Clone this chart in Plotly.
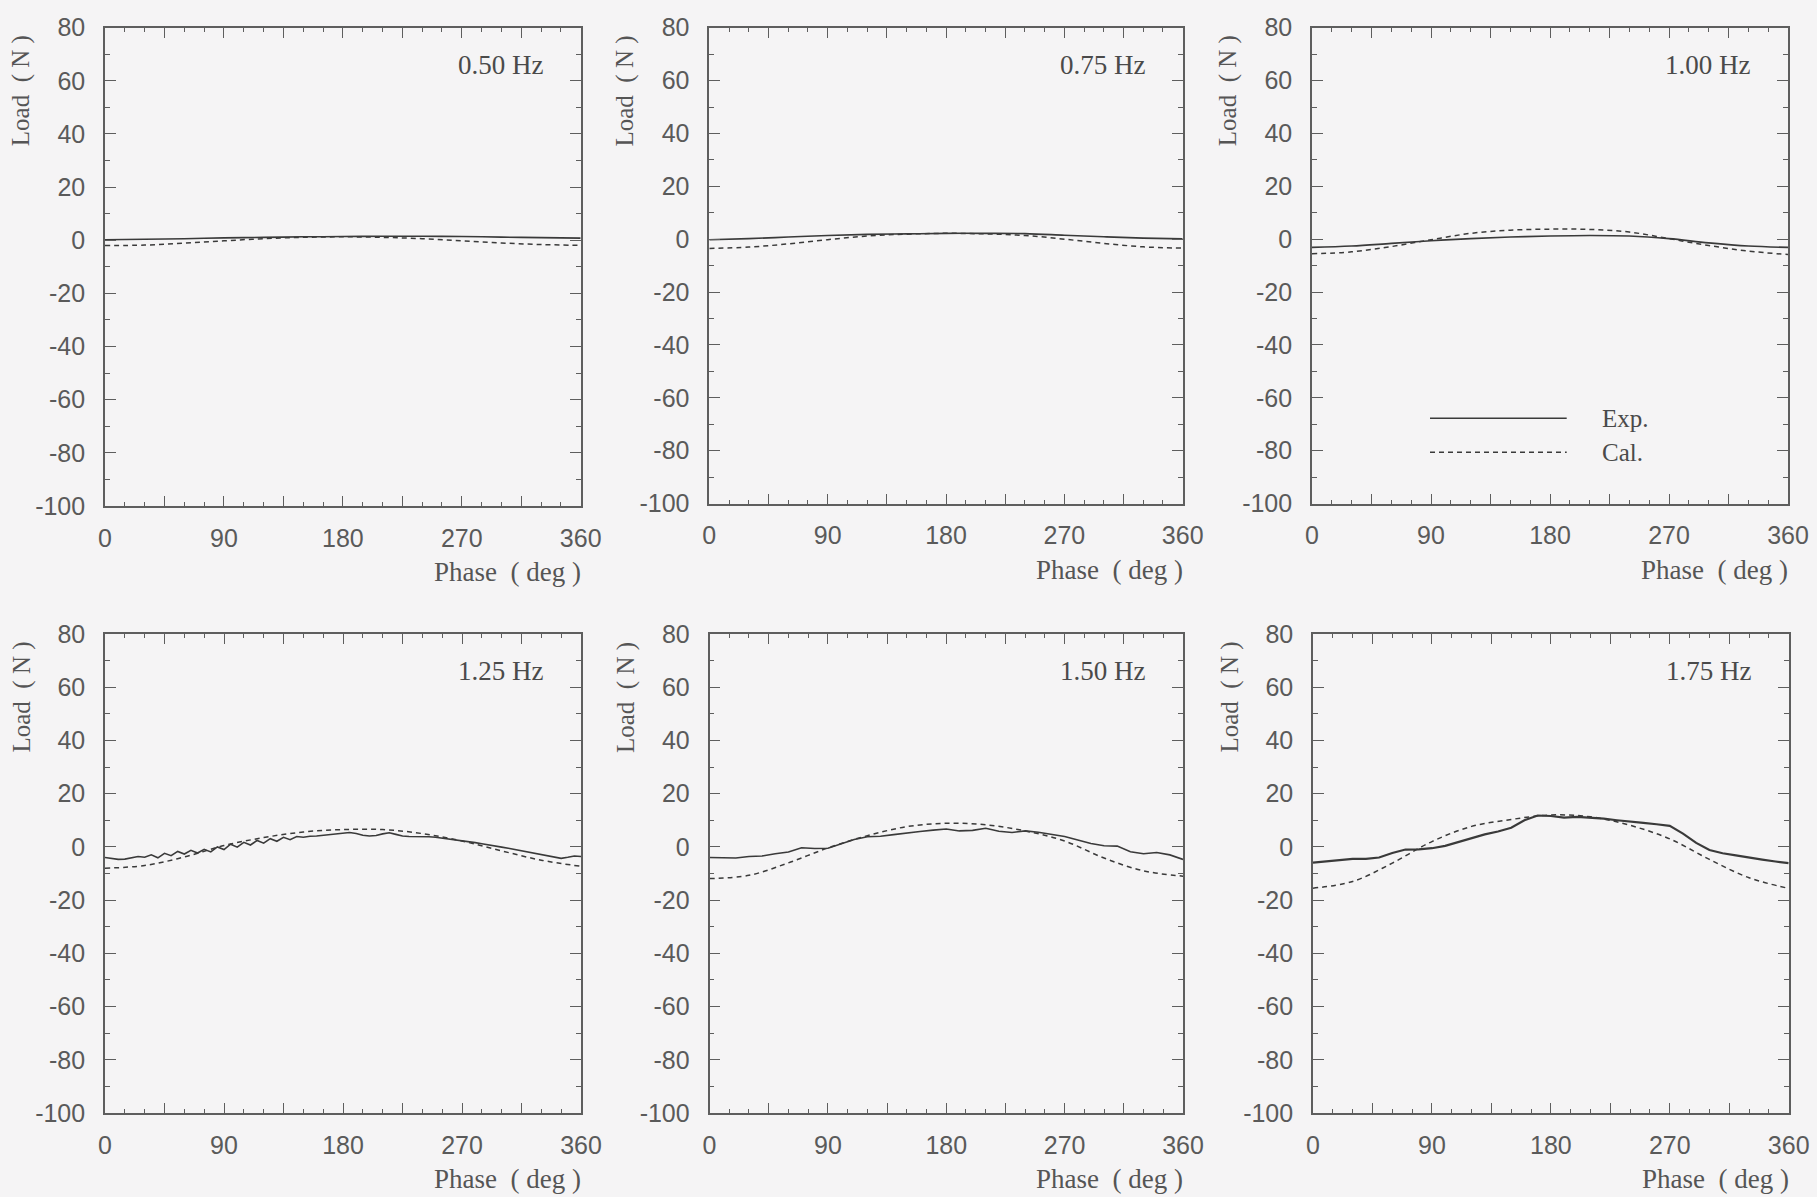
import plotly.graph_objects as go

# ---------------- data ----------------
FREQ_LABELS = ["0.50 Hz", "0.75 Hz", "1.00 Hz", "1.25 Hz", "1.50 Hz", "1.75 Hz"]

PHASE_30 = [0, 30, 60, 90, 120, 150, 180, 210, 240, 270, 300, 330, 360]
PHASE_10 = [0, 10, 20, 30, 40, 50, 60, 70, 80, 90, 100, 110, 120, 130, 140, 150,
            160, 170, 180, 190, 200, 210, 220, 230, 240, 250, 260, 270, 280, 290,
            300, 310, 320, 330, 340, 350, 360]
PHASE_5 = [0, 5, 10, 15, 20, 25, 30, 35, 40, 45, 50, 55, 60, 65, 70, 75, 80, 85,
           90, 95, 100, 105, 110, 115, 120, 125, 130, 135, 140, 145, 150, 155,
           160, 165, 170, 175, 180, 185, 190, 195, 200, 205, 210, 215, 220, 225,
           230, 235, 240, 245, 250, 255, 260, 265, 270, 275, 280, 285, 290, 295,
           300, 305, 310, 315, 320, 325, 330, 335, 340, 345, 350, 355, 360]

# Exp. (measured) load, N
EXP_050 = [0.2, 0.4, 0.6, 0.9, 1.1, 1.3, 1.4, 1.5, 1.5, 1.4, 1.2, 1.0, 0.8]
EXP_075 = [-0.2, 0.2, 0.8, 1.4, 1.8, 2.0, 2.2, 2.2, 2.1, 1.5, 0.9, 0.4, 0.1]
EXP_100 = [-3.1, -2.6, -1.6, -0.6, 0.2, 0.8, 1.2, 1.4, 1.2, 0.2, -1.4, -2.6, -3.1]
EXP_125 = [-4.0, -4.4, -4.7, -4.6, -4.1, -3.6, -3.9, -3.0, -4.1, -2.4, -3.3, -1.7,
           -2.7, -1.3, -2.3, -0.9, -1.9, 0.0, -1.0, 1.0, -0.1, 1.7, 0.7, 2.4,
           1.4, 3.1, 2.1, 3.6, 2.7, 3.9, 3.6, 4.0, 4.1, 4.4, 4.7, 5.0,
           5.3, 5.4, 5.0, 4.4, 4.1, 4.3, 4.9, 5.3, 4.7, 4.1, 3.9, 3.9,
           3.9, 3.8, 3.6, 3.3, 3.0, 2.7, 2.4, 2.0, 1.6, 1.2, 0.7, 0.3,
           -0.1, -0.5, -1.0, -1.4, -1.9, -2.4, -3.0, -3.4, -3.9, -4.3, -3.9, -3.4,
           -3.6]
EXP_150 = [-4.0, -4.1, -4.2, -3.6, -3.4, -2.6, -1.9, -0.3, -0.6, -0.5, 1.2, 2.8,
           3.8, 4.0, 4.6, 5.3, 5.8, 6.3, 6.7, 6.0, 6.2, 7.0, 5.9, 5.4, 6.0, 5.5,
           4.8, 3.9, 2.6, 1.3, 0.4, 0.3, -1.8, -2.6, -2.1, -3.0, -4.7]
EXP_175 = [-5.9, -5.5, -5.0, -4.5, -4.5, -4.0, -2.3, -1.0, -0.9, -0.5, 0.4, 1.8,
           3.4, 4.7, 5.8, 7.2, 10.0, 11.8, 11.6, 11.0, 11.3, 11.0, 10.6, 10.0,
           9.6, 9.0, 8.5, 7.9, 5.0, 1.5, -1.2, -2.4, -3.2, -4.1, -4.8, -5.5, -6.1]

# Cal. (calculated) load, N
CAL_050 = [-2.0, -1.8, -1.1, -0.2, 0.6, 1.1, 1.3, 1.1, 0.6, -0.2, -1.0, -1.6, -1.9]
CAL_075 = [-3.5, -3.0, -1.8, -0.2, 1.2, 1.9, 2.2, 2.0, 1.4, 0.0, -1.6, -2.9, -3.4]
CAL_100 = [-5.5, -4.8, -2.8, -0.2, 2.2, 3.4, 3.8, 3.7, 2.7, 0.2, -2.4, -4.5, -5.8]
CAL_125 = [-8.0, -7.0, -3.8, 0.5, 3.5, 5.6, 6.5, 6.5, 5.0, 2.2, -1.5, -5.0, -7.3]
CAL_150 = [-11.9, -10.7, -6.0, -0.4, 4.2, 7.6, 8.9, 8.3, 6.0, 2.2, -4.2, -9.0, -11.0]
CAL_175 = [-15.5, -13.0, -6.1, 2.0, 7.7, 10.3, 12.0, 11.3, 8.1, 3.0, -4.7, -11.6, -15.6]

EXP_PHASES = [PHASE_30, PHASE_30, PHASE_30, PHASE_5, PHASE_10, PHASE_10]
EXP_LOADS = [EXP_050, EXP_075, EXP_100, EXP_125, EXP_150, EXP_175]
CAL_PHASES = [PHASE_30] * 6
CAL_LOADS = [CAL_050, CAL_075, CAL_100, CAL_125, CAL_150, CAL_175]

X_TICKS = [0, 45, 90, 135, 180, 225, 270, 315, 360]
X_TICKTEXT = ["0", "", "90", "", "180", "", "270", "", "360"]
Y_TICKS = [-100, -80, -60, -40, -20, 0, 20, 40, 60, 80]
Y_TICKTEXT = ["-100", "-80", "-60", "-40", "-20", "0", "20", "40", "60", "80"]

LEGEND_NAMES = ["Exp.", "Cal."]

# ---------------- styling / layout ----------------
W, H = 1817, 1197
BG = "#f5f4f5"
AXC = "#5e5e5e"
CURVE = "#3a3a3a"
TICKFONT = dict(family="Liberation Sans, Arial, sans-serif", size=25, color="#5a5a5a")
SERIF = "Liberation Serif, Times New Roman, serif"
NB = "\u00a0"

# panel boxes in page pixels (left, right, top, bottom)
BOXES = [
    (105, 580.7, 27.7, 506), (709.3, 1182.7, 27.7, 503.5), (1312, 1788, 27.7, 503.5),
    (105, 581, 634, 1113), (709.5, 1183, 634, 1113), (1313, 1788.7, 634, 1113),
]

fig = go.Figure()
annotations = []
shapes = []
layout_axes = {}

for i in range(6):
    s = "" if i == 0 else str(i + 1)
    xa, ya = "x" + s, "y" + s
    l, r, t, b = BOXES[i]
    pw, ph = r - l, b - t

    lw_exp = 2.2 if i == 5 else 1.6
    fig.add_trace(go.Scatter(
        x=EXP_PHASES[i], y=EXP_LOADS[i], mode="lines", xaxis=xa, yaxis=ya,
        name=LEGEND_NAMES[0], showlegend=False,
        line=dict(color=CURVE, width=lw_exp, shape="spline" if i < 3 else "linear"),
    ))
    fig.add_trace(go.Scatter(
        x=CAL_PHASES[i], y=CAL_LOADS[i], mode="lines", xaxis=xa, yaxis=ya,
        name=LEGEND_NAMES[1], showlegend=False,
        line=dict(color=CURVE, width=1.5, dash="5px,4px", shape="spline", smoothing=1.0),
    ))

    layout_axes["xaxis" + s] = dict(
        domain=[l / W, r / W], anchor=ya, range=[0, 360], automargin=False,
        tickmode="array", tickvals=X_TICKS, ticktext=X_TICKTEXT,
        ticks="inside", ticklen=10, tickwidth=1.3, tickcolor=AXC,
        showline=True, linecolor=AXC, linewidth=1.6, mirror="allticks",
        showgrid=False, zeroline=False, tickfont=TICKFONT, ticklabelstandoff=9,
        minor=dict(tickmode="linear", tick0=0, dtick=15, ticks="inside", ticklen=4,
                   tickwidth=1.1, tickcolor=AXC, showgrid=False),
        fixedrange=True,
    )
    layout_axes["yaxis" + s] = dict(
        domain=[1 - b / H, 1 - t / H], anchor=xa, range=[-100, 80], automargin=False,
        tickmode="array", tickvals=Y_TICKS, ticktext=Y_TICKTEXT,
        ticks="inside", ticklen=11, tickwidth=1.3, tickcolor=AXC,
        showline=True, linecolor=AXC, linewidth=1.6, mirror="allticks",
        showgrid=False, zeroline=False, tickfont=TICKFONT, ticklabelstandoff=13,
        minor=dict(tickmode="linear", tick0=0, dtick=10, ticks="inside", ticklen=5,
                   tickwidth=1.1, tickcolor=AXC, showgrid=False),
        fixedrange=True,
    )

    xd, yd = xa + " domain", ya + " domain"
    annotations.append(dict(
        text=FREQ_LABELS[i], xref=xd, yref=yd, x=1 - 36 / pw, y=1 - 37 / ph,
        xanchor="right", yanchor="middle", showarrow=False,
        font=dict(family=SERIF, size=27, color="#4a4a4a"),
    ))
    annotations.append(dict(
        text="Load" + NB + NB + "(" + NB + "N" + NB + ")", xref=xd, yref=yd,
        x=-84 / pw, y=1 - 6 / ph,
        xanchor="center", yanchor="top", textangle=-90, showarrow=False,
        font=dict(family=SERIF, size=25, color="#555555"),
    ))
    annotations.append(dict(
        text="Phase" + NB + NB + "(" + NB + "deg" + NB + ")", xref=xd, yref=yd,
        x=1 + 2 / pw, y=-66 / ph,
        xanchor="right", yanchor="middle", showarrow=False,
        font=dict(family=SERIF, size=27, color="#555555"),
    ))

# legend drawn inside the 1.00 Hz panel
l, r, t, b = BOXES[2]
pw, ph = r - l, b - t
leg_rows = [(1 - (418.3 - t) / ph, "solid"), (1 - (452.3 - t) / ph, "5px,4px")]
for (yy, dash), name in zip(leg_rows, LEGEND_NAMES):
    shapes.append(dict(
        type="line", xref="x3 domain", yref="y3 domain",
        x0=(1430 - l) / pw, x1=(1566.7 - l) / pw, y0=yy, y1=yy,
        line=dict(color=CURVE, width=1.5, dash=dash),
    ))
    annotations.append(dict(
        text=name, xref="x3 domain", yref="y3 domain", x=(1600 - l) / pw, y=yy,
        xanchor="left", yanchor="middle", showarrow=False,
        font=dict(family=SERIF, size=25, color="#4a4a4a"),
    ))

fig.update_layout(
    width=W, height=H, autosize=False,
    margin=dict(l=0, r=0, t=0, b=0, pad=0),
    paper_bgcolor=BG, plot_bgcolor=BG,
    showlegend=False,
    annotations=annotations, shapes=shapes,
    **layout_axes,
)

fig.write_html(
    "out.html",
    config={"displayModeBar": False},
    post_script="document.body.style.margin='0px';document.body.style.overflow='hidden';",
)
